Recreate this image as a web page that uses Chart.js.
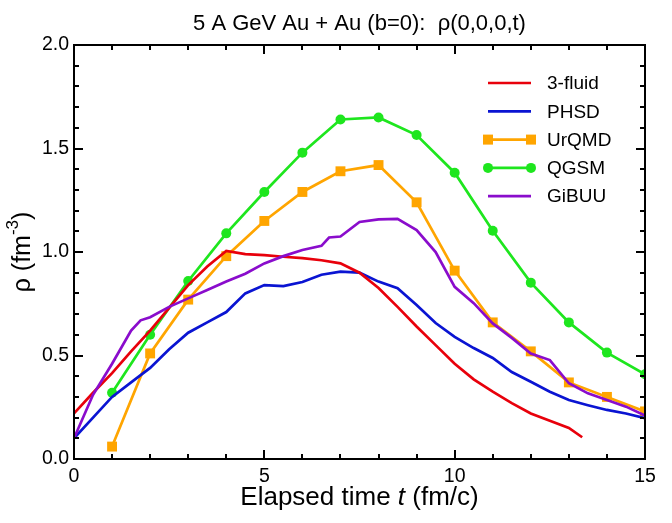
<!DOCTYPE html>
<html><head><meta charset="utf-8">
<script src="https://cdn.jsdelivr.net/npm/chart.js@4.4.0/dist/chart.umd.min.js"></script>
<style>html,body{margin:0;padding:0;background:#fff}</style>
</head><body>
<canvas id="c" width="672" height="523"></canvas>
<script>
// ---- data ----
const chartTitle = "5 A GeV Au + Au (b=0):  ρ(0,0,0,t)";
const seriesNames = ["3-fluid", "PHSD", "UrQMD", "QGSM", "GiBUU"];

const fluidT   = [0, 0.5, 1, 1.5, 2, 2.5, 3, 3.5, 4, 4.5, 5, 5.5, 6, 6.5, 7, 7.5, 8, 8.5, 9, 9.5, 10, 10.5, 11, 11.5, 12, 12.5, 13, 13.35];
const fluidRho = [0.22, 0.32, 0.415, 0.52, 0.62, 0.73, 0.84, 0.93, 1.005, 0.99, 0.985, 0.977, 0.97, 0.96, 0.945, 0.90, 0.826, 0.735, 0.64, 0.55, 0.46, 0.385, 0.325, 0.27, 0.22, 0.185, 0.15, 0.105];

const phsdT   = [0, 0.5, 1, 1.5, 2, 2.5, 3, 3.5, 4, 4.5, 5, 5.5, 6, 6.5, 7, 7.5, 8, 8.5, 9, 9.5, 10, 10.5, 11, 11.5, 12, 12.5, 13, 13.5, 14, 14.5, 15];
const phsdRho = [0.10, 0.20, 0.30, 0.37, 0.44, 0.53, 0.61, 0.66, 0.71, 0.80, 0.84, 0.835, 0.855, 0.89, 0.905, 0.90, 0.857, 0.825, 0.744, 0.657, 0.59, 0.536, 0.488, 0.42, 0.373, 0.325, 0.285, 0.26, 0.237, 0.22, 0.197];

const urqmdT   = [1, 2, 3, 4, 5, 6, 7, 8, 9, 10, 11, 12, 13, 14, 15];
const urqmdRho = [0.06, 0.51, 0.77, 0.98, 1.15, 1.29, 1.39, 1.42, 1.24, 0.91, 0.66, 0.52, 0.37, 0.30, 0.23];

const qgsmT   = [1, 2, 3, 4, 5, 6, 7, 8, 9, 10, 11, 12, 13, 14, 15];
const qgsmRho = [0.32, 0.60, 0.86, 1.09, 1.29, 1.48, 1.64, 1.65, 1.565, 1.383, 1.103, 0.852, 0.66, 0.514, 0.409];

const gibuuT   = [0, 0.5, 1, 1.5, 1.75, 2, 2.5, 3, 3.5, 4, 4.5, 5, 5.5, 6, 6.5, 6.7, 7, 7.5, 8, 8.5, 9, 9.5, 10, 10.5, 11, 11.5, 12, 12.5, 13, 13.5, 14, 14.5, 15];
const gibuuRho = [0.10, 0.31, 0.46, 0.62, 0.67, 0.685, 0.735, 0.776, 0.816, 0.857, 0.895, 0.945, 0.98, 1.01, 1.03, 1.07, 1.075, 1.145, 1.158, 1.16, 1.106, 1.0, 0.832, 0.753, 0.655, 0.585, 0.51, 0.478, 0.366, 0.317, 0.285, 0.253, 0.21];

const xMajorTicks = [0, 5, 10, 15];
const xMinorTicks = [1, 2, 3, 4, 6, 7, 8, 9, 11, 12, 13, 14];
const yMajorTicks = [0, 0.5, 1.0, 1.5, 2.0];
const yMinorTicks = [0.1, 0.2, 0.3, 0.4, 0.6, 0.7, 0.8, 0.9, 1.1, 1.2, 1.3, 1.4, 1.6, 1.7, 1.8, 1.9];
const xAxisTitle = ["Elapsed time ", "t", " (fm/c)"];
const yAxisTitle = ["ρ (fm", "-3", ")"];

// ---- styles ----
const colors = ["#e8000b", "#0a14d2", "#ffa500", "#1ee61e", "#8a0ccc"];
const FONT = "'Liberation Sans', Arial, Helvetica, sans-serif";

function pts(xs, ys) { return xs.map((x, i) => ({ x: x, y: ys[i] })); }

const datasets = [
  { label: seriesNames[0], data: pts(fluidT, fluidRho), borderColor: colors[0], pointRadius: 0, order: 2 },
  { label: seriesNames[1], data: pts(phsdT, phsdRho), borderColor: colors[1], pointRadius: 0, order: 3 },
  { label: seriesNames[2], data: pts(urqmdT, urqmdRho), borderColor: colors[2], backgroundColor: colors[2], pointStyle: 'rect', pointRadius: 7, order: 4 },
  { label: seriesNames[3], data: pts(qgsmT, qgsmRho), borderColor: colors[3], backgroundColor: colors[3], pointStyle: 'circle', pointRadius: 5, order: 5 },
  { label: seriesNames[4], data: pts(gibuuT, gibuuRho), borderColor: colors[4], pointRadius: 0, order: 1 }
];
datasets.forEach(d => { d.borderWidth = 2.7; d.tension = 0; d.fill = false; d.pointBorderWidth = 0; d.pointHoverRadius = d.pointRadius; });

const decor = {
  id: 'decor',
  afterDatasetsDraw(chart) {
    const ctx = chart.ctx, a = chart.chartArea;
    const xs = chart.scales.x, ys = chart.scales.y;
    ctx.save();
    ctx.strokeStyle = '#000';
    ctx.lineWidth = 2;
    ctx.lineCap = 'butt';
    const tick = (vals, len, isX) => {
      vals.forEach(v => {
        ctx.beginPath();
        if (isX) {
          const p = Math.round(xs.getPixelForValue(v));
          ctx.moveTo(p, a.bottom); ctx.lineTo(p, a.bottom - len);
          ctx.moveTo(p, a.top); ctx.lineTo(p, a.top + len);
        } else {
          const p = Math.round(ys.getPixelForValue(v));
          ctx.moveTo(a.left, p); ctx.lineTo(a.left + len, p);
          ctx.moveTo(a.right, p); ctx.lineTo(a.right - len, p);
        }
        ctx.stroke();
      });
    };
    tick(xMajorTicks, 9, true); tick(xMinorTicks, 5, true);
    tick(yMajorTicks, 9, false); tick(yMinorTicks, 5, false);
    ctx.strokeRect(a.left, a.top, a.right - a.left, a.bottom - a.top);

    // legend
    const lx0 = 488, lx1 = 531, tx = 547, ly0 = 83, dy = 28.3;
    ctx.font = '19px ' + FONT;
    ctx.textBaseline = 'middle';
    ctx.textAlign = 'left';
    datasets.forEach((d, i) => {
      const y = ly0 + i * dy;
      ctx.strokeStyle = d.borderColor;
      ctx.fillStyle = d.borderColor;
      ctx.lineWidth = 2.7;
      ctx.beginPath(); ctx.moveTo(lx0, y); ctx.lineTo(lx1, y); ctx.stroke();
      [lx0, lx1].forEach(px => {
        if (d.pointStyle === 'rect') { ctx.fillRect(px - 5, y - 5, 10, 10); }
        else if (d.pointStyle === 'circle') { ctx.beginPath(); ctx.arc(px, y, 5, 0, Math.PI * 2); ctx.fill(); }
      });
      ctx.fillStyle = '#000';
      ctx.fillText(d.label, tx, y + 1);
    });

    // chart title
    ctx.textAlign = 'center';
    ctx.textBaseline = 'alphabetic';
    ctx.font = '22px ' + FONT;
    ctx.fillText(chartTitle, (a.left + a.right) / 2, 30);

    // x axis title with italic t
    const xf = '26px ' + FONT, xfi = 'italic 26px ' + FONT;
    ctx.textAlign = 'left';
    ctx.font = xf; const w0 = ctx.measureText(xAxisTitle[0]).width, w2 = ctx.measureText(xAxisTitle[2]).width;
    ctx.font = xfi; const w1 = ctx.measureText(xAxisTitle[1]).width;
    let sx = (a.left + a.right) / 2 - (w0 + w1 + w2) / 2;
    const ty = 505;
    ctx.font = xf; ctx.fillText(xAxisTitle[0], sx, ty);
    ctx.font = xfi; ctx.fillText(xAxisTitle[1], sx + w0, ty);
    ctx.font = xf; ctx.fillText(xAxisTitle[2], sx + w0 + w1, ty);

    // y axis title rotated with superscript
    const yf = '25px ' + FONT, yfs = '17px ' + FONT;
    ctx.translate(30, (a.top + a.bottom) / 2);
    ctx.rotate(-Math.PI / 2);
    ctx.font = yf; const v0 = ctx.measureText(yAxisTitle[0]).width, v2 = ctx.measureText(yAxisTitle[2]).width;
    ctx.font = yfs; const v1 = ctx.measureText(yAxisTitle[1]).width;
    let sy = -(v0 + v1 + v2) / 2;
    ctx.font = yf; ctx.fillText(yAxisTitle[0], sy, 0);
    ctx.font = yfs; ctx.fillText(yAxisTitle[1], sy + v0, -12);
    ctx.font = yf; ctx.fillText(yAxisTitle[2], sy + v0 + v1, 0);
    ctx.restore();
  }
};

new Chart(document.getElementById('c'), {
  type: 'line',
  data: { datasets: datasets },
  options: {
    responsive: false,
    animation: false,
    devicePixelRatio: 1,
    layout: { padding: { left: 0, right: 27, top: 45, bottom: 0 } },
    plugins: { legend: { display: false }, title: { display: false }, tooltip: { enabled: false } },
    scales: {
      x: {
        type: 'linear', min: 0, max: 15,
        grid: { display: false, drawTicks: false },
        border: { display: false },
        afterBuildTicks: s => { s.ticks = xMajorTicks.map(v => ({ value: v })); },
        afterFit: s => { s.height = 64; },
        ticks: { padding: 6, color: '#000', font: { family: FONT, size: 19.5 }, maxRotation: 0 }
      },
      y: {
        type: 'linear', min: 0, max: 2,
        grid: { display: false, drawTicks: false },
        border: { display: false },
        afterBuildTicks: s => { s.ticks = yMajorTicks.map(v => ({ value: v })); },
        afterFit: s => { s.width = 74; },
        ticks: { padding: 5, color: '#000', font: { family: FONT, size: 19.5 }, callback: v => v.toFixed(1) }
      }
    }
  },
  plugins: [decor]
});
</script>
</body></html>
